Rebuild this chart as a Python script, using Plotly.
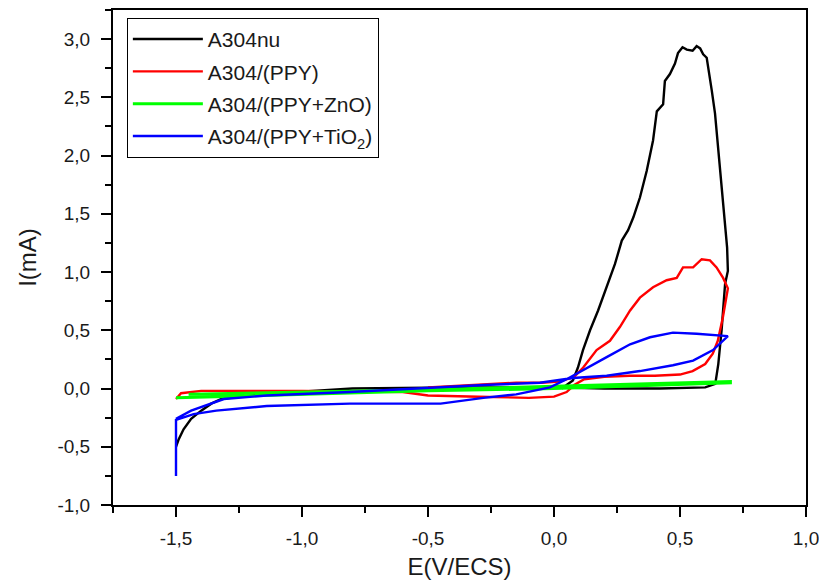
import plotly.graph_objects as go

# ---- data ----
names = ["A304nu", "A304/(PPY)", "A304/(PPY+ZnO)", "A304/(PPY+TiO<sub>2</sub>)"]
colors = ["#000000", "#ff0000", "#00ff00", "#0000ff"]

e_nu = [-1.5, -1.49, -1.47, -1.44, -1.4, -1.36, -1.32, -1.25, -1.1, -0.8, -0.4, 0.0, 0.2, 0.42, 0.6,
        0.64, 0.652, 0.665, 0.679, 0.69, 0.687, 0.679, 0.665, 0.651, 0.639, 0.626, 0.606, 0.592, 0.58,
        0.566, 0.55, 0.527, 0.51, 0.492, 0.48, 0.46, 0.44, 0.433, 0.408, 0.393, 0.368, 0.341, 0.315,
        0.294, 0.269, 0.242, 0.209, 0.175, 0.143, 0.115, 0.095, 0.075, 0.05, 0.03]
i_nu = [-0.5, -0.44, -0.35, -0.26, -0.19, -0.13, -0.09, -0.07, -0.04, 0.0, 0.01, 0.01, 0.0, 0.0, 0.01,
        0.04, 0.21, 0.5, 0.9, 1.01, 1.21, 1.41, 1.76, 2.13, 2.36, 2.56, 2.84, 2.87, 2.92,
        2.94, 2.9, 2.91, 2.93, 2.88, 2.79, 2.7, 2.64, 2.44, 2.38, 2.13, 1.87, 1.64, 1.47,
        1.36, 1.27, 1.07, 0.87, 0.67, 0.5, 0.33, 0.18, 0.07, 0.03, 0.0]

e_ppy = [-1.5, -1.48, -1.4, -1.0, -0.6, -0.5, -0.3, -0.1, 0.0, 0.05, 0.08, 0.12, 0.2, 0.3, 0.4, 0.5,
         0.55, 0.6, 0.63, 0.65, 0.67, 0.68, 0.69, 0.671, 0.645, 0.619, 0.586, 0.552, 0.512, 0.487,
         0.447, 0.393, 0.341, 0.302, 0.262, 0.222, 0.169, 0.116, 0.08, 0.02, -0.05, -0.15, -0.5]
i_ppy = [-0.09, -0.04, -0.02, -0.02, -0.03, -0.06, -0.07, -0.08, -0.07, -0.03, 0.03, 0.08, 0.1, 0.11, 0.11, 0.12,
         0.15, 0.21, 0.3, 0.41, 0.61, 0.73, 0.86, 0.95, 1.04, 1.1, 1.11, 1.04, 1.04, 0.95,
         0.93, 0.87, 0.78, 0.67, 0.53, 0.41, 0.33, 0.18, 0.1, 0.06, 0.05, 0.05, 0.01]

e_zno = [-1.5, -1.0, -0.5, 0.0, 0.3, 0.7, 0.7, 0.3, 0.0, -0.5, -1.0, -1.45]
i_zno = [-0.08, -0.05, -0.02, 0.0, 0.02, 0.05, 0.06, 0.04, 0.02, -0.01, -0.03, -0.05]

e_tio = [-1.5, -1.5, -1.43, -1.34, -1.14, -0.81, -0.45, -0.28, -0.15, -0.016, 0.05, 0.115, 0.209,
         0.302, 0.381, 0.472, 0.566, 0.69, 0.631, 0.552, 0.472, 0.341, 0.209, 0.075, -0.056, -0.28,
         -0.81, -1.14, -1.31, -1.44, -1.5]
i_tio = [-0.75, -0.27, -0.22, -0.19, -0.15, -0.13, -0.13, -0.08, -0.05, 0.01, 0.08, 0.16, 0.27,
         0.38, 0.44, 0.48, 0.47, 0.45, 0.33, 0.24, 0.2, 0.15, 0.11, 0.09, 0.05, 0.03,
         -0.03, -0.06, -0.09, -0.19, -0.26]

x_tickvals = [-1.5, -1.0, -0.5, 0.0, 0.5, 1.0]
x_ticktext = ["-1,5", "-1,0", "-0,5", "0,0", "0,5", "1,0"]
y_tickvals = [-1.0, -0.5, 0.0, 0.5, 1.0, 1.5, 2.0, 2.5, 3.0]
y_ticktext = ["-1,0", "-0,5", "0,0", "0,5", "1,0", "1,5", "2,0", "2,5", "3,0"]

xs = [e_nu, e_ppy, e_zno, e_tio]
ys = [i_nu, i_ppy, i_zno, i_tio]

font_family = "Liberation Sans, Arial, sans-serif"
txt = "#1a1a1a"

fig = go.Figure()
for k in range(4):
    fig.add_trace(go.Scatter(x=xs[k], y=ys[k], mode="lines", name=names[k],
                             line=dict(color=colors[k], width=3 if k == 2 else 2.4),
                             legendgroup=str(k)))

axis_common = dict(showline=True, linecolor="black", linewidth=2, mirror=True,
                   ticks="outside", ticklen=10, tickwidth=2, tickcolor="black",
                   showgrid=False, zeroline=False, automargin=False,
                   ticklabeloverflow="allow",
                   tickfont=dict(family=font_family, size=19, color=txt),
                   minor=dict(ticks="outside", ticklen=6, tickwidth=2, tickcolor="black", dtick=0.25))

fig.update_xaxes(range=[-1.75, 1.0], tickvals=x_tickvals, ticktext=x_ticktext,
                 ticklabelstandoff=5,
                 title=dict(text="E(V/ECS)", font=dict(family=font_family, size=24, color=txt), standoff=10),
                 **axis_common)
fig.update_yaxes(range=[-1.0, 3.25], tickvals=y_tickvals, ticktext=y_ticktext,
                 ticklabelstandoff=7,
                 title=dict(text="I(mA)", font=dict(family=font_family, size=24, color=txt), standoff=14),
                 **axis_common)

fig.update_layout(
    width=819, height=585,
    margin=dict(l=113, r=13, t=10, b=80),
    plot_bgcolor="white", paper_bgcolor="white",
    font=dict(family=font_family, color=txt),
    legend=dict(x=0.02, y=0.984, xanchor="left", yanchor="top",
                bgcolor="white", bordercolor="black", borderwidth=1,
                font=dict(family=font_family, size=21, color=txt),
                itemwidth=70, tracegroupgap=2),
)

fig.write_html("out.html")
